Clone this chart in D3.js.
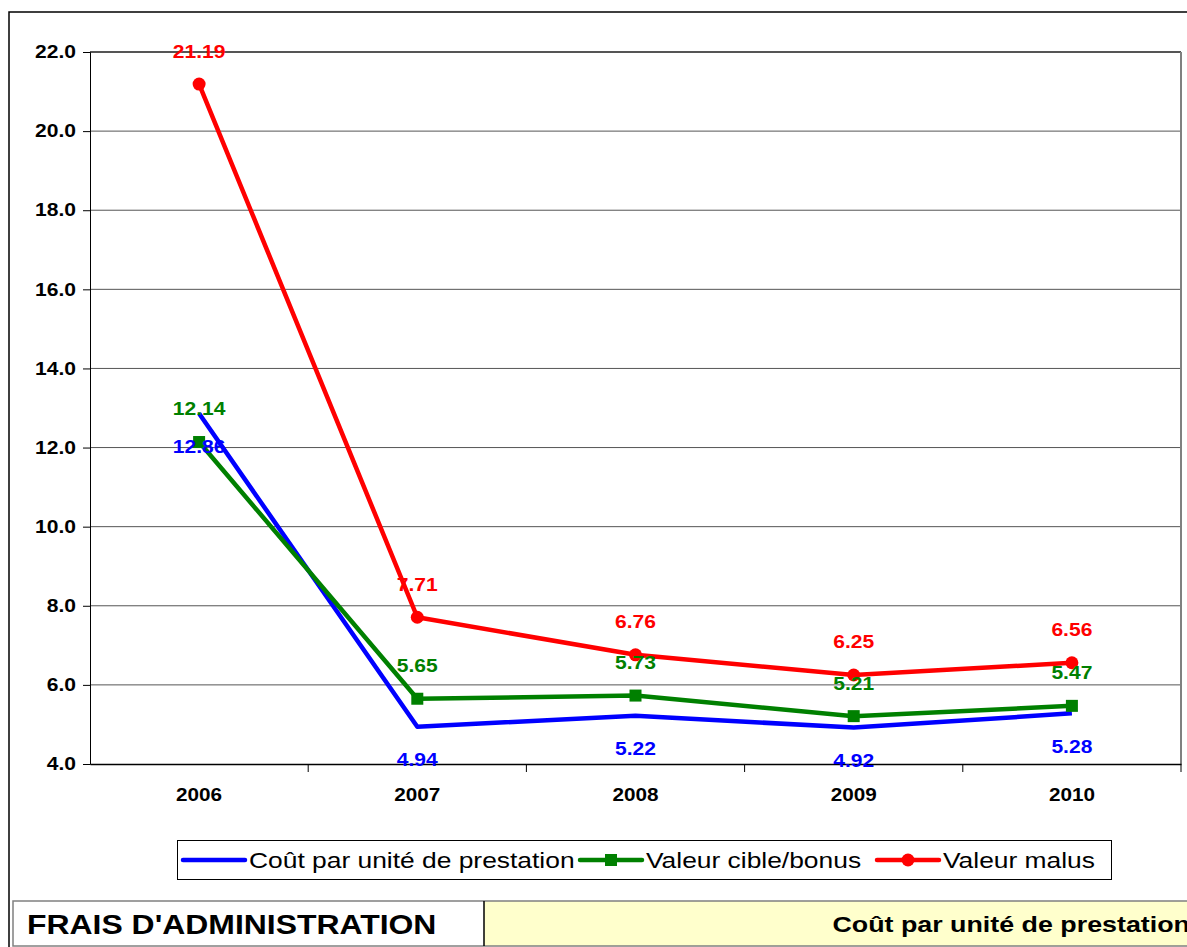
<!DOCTYPE html>
<html><head><meta charset="utf-8">
<script src="https://cdn.jsdelivr.net/npm/d3@7"></script>
<style>body{margin:0;background:#fff}svg{display:block}text{font-family:Arial,"Liberation Sans",sans-serif}</style>
</head><body>
<svg id="c" width="1187" height="947"></svg>
<script>
const years = ["2006","2007","2008","2009","2010"];
const cout = [12.86, 4.94, 5.22, 4.92, 5.28];
const cible = [12.14, 5.65, 5.73, 5.21, 5.47];
const malus = [21.19, 7.71, 6.76, 6.25, 6.56];
const yTicks = [4,6,8,10,12,14,16,18,20,22];
const seriesNames = ["Coût par unité de prestation","Valeur cible/bonus","Valeur malus"];

const svg = d3.select("#c");
const L=90, R=1181, T=52, B=764;
const x = d3.scaleBand().domain(years).range([L,R]);
const y = d3.scaleLinear().domain([4,22]).range([B,T]);
const cx = d => x(d)+x.bandwidth()/2;

// horizontal stretch of text around its anchor x
function stretch(sel, sx){
  sel.each(function(){
    const t = d3.select(this);
    const x0 = +(t.attr("x")||0);
    t.attr("transform",`translate(${x0*(1-sx)},0) scale(${sx},1)`);
  });
}

// outer chart border
svg.append("path").attr("d","M9,947 V12 H1187").attr("fill","none").attr("stroke","#000").attr("stroke-width",1.5);

// gridlines
svg.append("g").selectAll("line").data(yTicks.filter(t=>t>4)).join("line")
  .attr("x1",L).attr("x2",R).attr("y1",d=>y(d)).attr("y2",d=>y(d))
  .attr("stroke","#555").attr("stroke-width",d=>d===22?2:1);
// right border
svg.append("line").attr("x1",R).attr("x2",R).attr("y1",T).attr("y2",B).attr("stroke","#808080").attr("stroke-width",2);

// y axis
const ya = svg.append("g").attr("transform",`translate(${L},0)`)
  .call(d3.axisLeft(y).tickValues(yTicks).tickFormat(d3.format(".1f")).tickSize(7).tickPadding(7));
ya.select(".domain").attr("stroke","#000");
ya.selectAll("text").attr("font-size",18).attr("font-weight","bold").attr("fill","#000").attr("font-family","Arial,'Liberation Sans',sans-serif");
stretch(ya.selectAll("text"),1.17);

// x axis
const xa = svg.append("g").attr("transform",`translate(0,${B})`)
  .call(d3.axisBottom(x).tickSize(0).tickPadding(24));
xa.select(".domain").attr("stroke","#000").attr("stroke-width",1.5);
xa.selectAll("text").attr("font-size",18).attr("font-weight","bold").attr("fill","#000").attr("font-family","Arial,'Liberation Sans',sans-serif");
stretch(xa.selectAll("text"),1.15);
svg.append("g").selectAll("line").data(years.slice(1).concat(["end"])).join("line")
  .attr("x1",(d,i)=>L+x.bandwidth()*(i+1)).attr("x2",(d,i)=>L+x.bandwidth()*(i+1))
  .attr("y1",B).attr("y2",B+8).attr("stroke","#000");

const line = d3.line().x((d,i)=>cx(years[i])).y(d=>y(d));
const S = [
  {vals:cout, color:"#0000ff", marker:"none", dy:33},
  {vals:cible, color:"#008000", marker:"square", dy:-33},
  {vals:malus, color:"#ff0000", marker:"circle", dy:-33}
];
S.forEach(s=>{
  svg.append("path").attr("d",line(s.vals)).attr("fill","none").attr("stroke",s.color).attr("stroke-width",4.5).attr("stroke-linejoin","round");
  const g = svg.append("g");
  if(s.marker==="square"){
    g.selectAll("rect").data(s.vals).join("rect")
      .attr("x",(d,i)=>cx(years[i])-6).attr("y",d=>y(d)-6).attr("width",12).attr("height",12).attr("fill",s.color);
  } else if(s.marker==="circle"){
    g.selectAll("circle").data(s.vals).join("circle")
      .attr("cx",(d,i)=>cx(years[i])).attr("cy",d=>y(d)).attr("r",6.5).attr("fill",s.color);
  }
});
S.forEach(s=>{
  const tt = svg.append("g").selectAll("text").data(s.vals).join("text")
    .attr("x",(d,i)=>cx(years[i])).attr("y",d=>y(d)+s.dy).attr("dy","0.36em")
    .attr("text-anchor","middle").attr("font-size",18).attr("font-weight","bold").attr("fill",s.color)
    .text(d=>d3.format(".2f")(d));
  stretch(tt,1.17);
});

// legend
const lg = svg.append("g");
lg.append("rect").attr("x",177.5).attr("y",840.5).attr("width",934).attr("height",39).attr("fill","#fff").attr("stroke","#000");
const legX = [183, 580, 877];
S.forEach((s,i)=>{
  const x0 = legX[i], yy = 860;
  lg.append("line").attr("x1",x0).attr("x2",x0+62).attr("y1",yy).attr("y2",yy).attr("stroke",s.color).attr("stroke-width",4.5).attr("stroke-linecap","round");
  if(s.marker==="square") lg.append("rect").attr("x",x0+25).attr("y",yy-6).attr("width",12).attr("height",12).attr("fill",s.color);
  if(s.marker==="circle") lg.append("circle").attr("cx",x0+31).attr("cy",yy).attr("r",6.5).attr("fill",s.color);
  const t = lg.append("text").attr("x",x0+66).attr("y",yy).attr("dy","0.36em").attr("font-size",22).attr("fill","#000").text(seriesNames[i]);
  stretch(t,1.2);
});

// bottom table
const tb = svg.append("g");
tb.append("rect").attr("x",484).attr("y",901).attr("width",710).attr("height",45).attr("fill","#ffffcc");
tb.append("rect").attr("x",13).attr("y",901).attr("width",1190).attr("height",45).attr("fill","none").attr("stroke","#808080").attr("stroke-width",1.5);
tb.append("line").attr("x1",484).attr("x2",484).attr("y1",901).attr("y2",946).attr("stroke","#000").attr("stroke-width",1.5);
const t1 = tb.append("text").attr("x",27).attr("y",924).attr("dy","0.36em").attr("font-size",28).attr("font-weight","bold").text("FRAIS D'ADMINISTRATION");
stretch(t1,1.14);
const t2 = tb.append("text").attr("x",1190).attr("y",924).attr("dy","0.36em").attr("text-anchor","end").attr("font-size",22).attr("font-weight","bold").text("Coût par unité de prestation");
stretch(t2,1.22);
</script>
</body></html>
